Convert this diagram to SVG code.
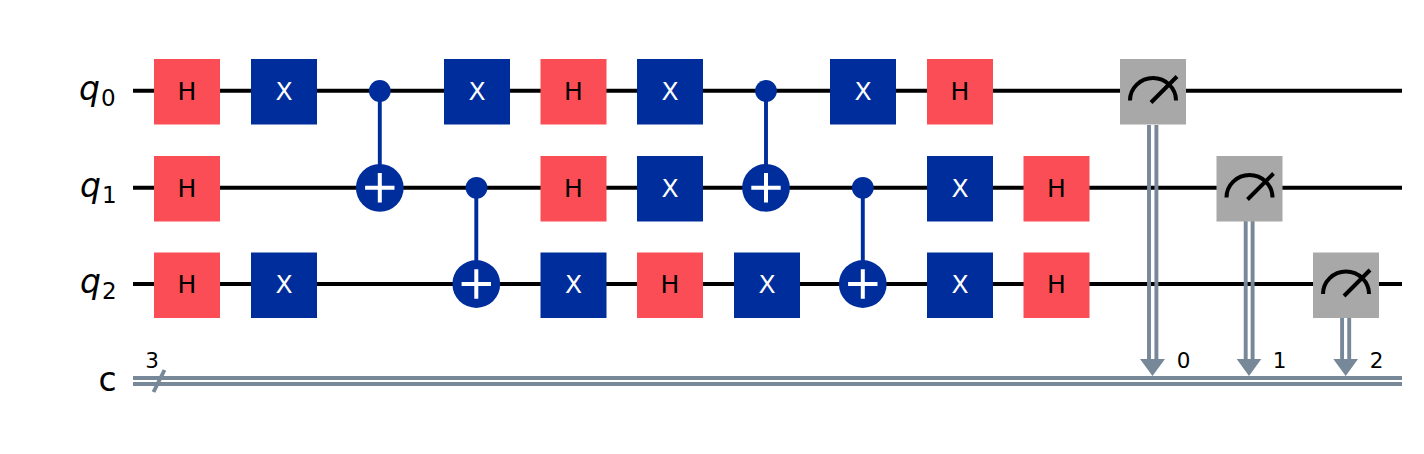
<svg xmlns="http://www.w3.org/2000/svg" width="1424" height="454" viewBox="0 0 1424 454">
<style>
.w{stroke:#000;stroke-width:3.9;fill:none}
.c{stroke:#778899;stroke-width:3.9;fill:none}
.ctl{stroke:#002d9c;stroke-width:3.9;fill:none}
.h{fill:#fa4d56}.x{fill:#002d9c}.m{fill:#a8a8a8}
.t{font-family:"DejaVu Sans",sans-serif;font-size:25px;text-anchor:middle}
.tw{fill:#fff}
.l{font-family:"DejaVu Sans",sans-serif;font-size:33px;font-style:italic;fill:#000}
.r{font-family:"DejaVu Sans",sans-serif;font-size:33px;fill:#000}
.s{font-family:"DejaVu Sans",sans-serif;font-size:23px;font-style:normal;fill:#000}
.n{font-family:"DejaVu Sans",sans-serif;font-size:21.5px;fill:#000;text-anchor:middle}
.p{stroke:#fff;stroke-width:4;fill:none}
.g{stroke:#000;stroke-width:4;fill:none}
</style>
<defs>
<g id="H"><rect class="h" x="-33" y="-32.5" width="66" height="65.5"/><text class="t" y="8">H</text></g>
<g id="X"><rect class="x" x="-33" y="-32.5" width="66" height="65.5"/><text class="t tw" y="8">X</text></g>
<g id="P"><circle class="x" r="23.900"/><path class="p" d="M-14.700 0H14.700M0-14.700V14.700"/></g>
<g id="M"><rect class="m" x="-33" y="-32.500" width="66" height="65.500"/><path class="g" d="M-23 9A23 22.500 0 0 1 23 9M-2 11L24-15"/></g>
</defs>
<g id="connectors">
<path class="w" d="M133 90.800H1402M133 187.800H1402M133 284H1402"/>
<path class="c" d="M133 378H1402M133 384H1402M153.500 392L164.500 370"/>
<path class="ctl" d="M379.800 90.800V187.800M476.300 187.800V284M766 90.800V187.800M862.800 187.800V284"/>
<path class="c" d="M1149 125V366M1156.400 125V366M1245.700 221V366M1252.600 221V366M1342.100 318V366M1349.200 318V366"/>
<path fill="#778899" d="M1140 359H1165L1152.500 376ZM1236.700 359H1261.300L1249 376ZM1333.300 359H1358L1345.700 376Z"/>
</g>
<g id="label-q0"><text class="l" x="79" y="99.500">q<tspan class="s" dy="6" dx="1">0</tspan></text></g>
<g id="label-q1"><text class="l" x="80" y="196.500">q<tspan class="s" dy="6" dx="1">1</tspan></text></g>
<g id="label-q2"><text class="l" x="80" y="293">q<tspan class="s" dy="6" dx="1">2</tspan></text></g>
<g id="label-c"><text class="r" x="98.500" y="390.500">c</text></g>
<g id="bits"><text class="n" x="152" y="368">3</text><text class="n" x="1183.500" y="368">0</text><text class="n" x="1279.500" y="368">1</text><text class="n" x="1376.700" y="368">2</text></g>
<use id="h00" href="#H" x="187" y="91.500"/>
<use id="x01" href="#X" x="284" y="91.500"/>
<g id="ctl0"><circle class="x" cx="379.800" cy="91" r="10.900"/></g>
<use id="plus0" href="#P" x="379.800" y="187.800"/>
<use id="x03" href="#X" x="477" y="91.500"/>
<use id="h04" href="#H" x="573.500" y="91.500"/>
<use id="x05" href="#X" x="670" y="91.500"/>
<g id="ctl1"><circle class="x" cx="766" cy="91" r="10.900"/></g>
<use id="plus1" href="#P" x="766" y="187.800"/>
<use id="x07" href="#X" x="863" y="91.500"/>
<use id="h08" href="#H" x="960" y="91.500"/>
<use id="m0" href="#M" x="1153" y="91.500"/>
<use id="h10" href="#H" x="187" y="188.500"/>
<g id="ctl2"><circle class="x" cx="476.500" cy="187.800" r="10.900"/></g>
<use id="plus2" href="#P" x="476.300" y="284"/>
<use id="h14" href="#H" x="573.500" y="188.500"/>
<use id="x15" href="#X" x="670" y="188.500"/>
<g id="ctl3"><circle class="x" cx="862.800" cy="187.800" r="10.900"/></g>
<use id="plus3" href="#P" x="862.800" y="284"/>
<use id="x18" href="#X" x="960" y="188.500"/>
<use id="h19" href="#H" x="1056.500" y="188.500"/>
<use id="m1" href="#M" x="1249.500" y="188.500"/>
<use id="h20" href="#H" x="187" y="285"/>
<use id="x21" href="#X" x="284" y="285"/>
<use id="x24" href="#X" x="573.500" y="285"/>
<use id="h25" href="#H" x="670" y="285"/>
<use id="x26" href="#X" x="767" y="285"/>
<use id="x28" href="#X" x="960" y="285"/>
<use id="h29" href="#H" x="1056.500" y="285"/>
<use id="m2" href="#M" x="1346" y="285"/>
</svg>
